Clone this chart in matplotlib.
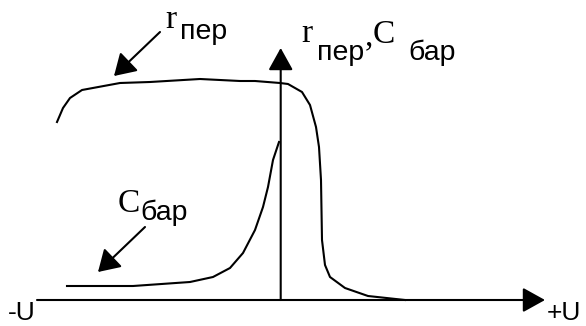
import matplotlib
matplotlib.use("Agg")
import matplotlib.pyplot as plt

# Transition resistance r_пер versus bias voltage U (arbitrary units)
u_r = [-2.237, -2.177, -2.107, -1.987, -1.607, -1.307, -0.807, -0.407, -0.257,
       -0.007, 0.073, 0.213, 0.293, 0.353, 0.383, 0.403, 0.413, 0.443, 0.493,
       0.643, 0.873, 1.243]
r_per = [1.78, 1.92, 2.02, 2.10, 2.17, 2.18, 2.21, 2.19, 2.19,
         2.17, 2.16, 2.08, 1.95, 1.73, 1.53, 1.20, 0.60, 0.35, 0.23,
         0.12, 0.04, 0.00]

# Barrier capacitance C_бар versus bias voltage U (arbitrary units)
u_c = [-2.137, -1.477, -0.907, -0.677, -0.507, -0.377, -0.257, -0.177,
       -0.127, -0.077, -0.017]
c_bar = [0.14, 0.14, 0.18, 0.23, 0.32, 0.47, 0.70, 0.93, 1.13, 1.40, 1.58]

SERIF = "Liberation Serif"
SANS = "Liberation Sans"
SUB = 20.5

fig = plt.figure(figsize=(5.86, 3.26), dpi=100)
ax = fig.add_axes([0, 0, 1, 1])
ax.set_xlim(-2.807, 3.053)
ax.set_ylim(-0.26, 3.0)
ax.axis("off")

lw = 1.5

# coordinate axes with filled arrowheads
axis_arrow = dict(arrowstyle="-|>,head_length=13.7,head_width=7.6",
                  mutation_scale=1, lw=lw, color="black",
                  shrinkA=0, shrinkB=0)
ax.annotate("", xy=(2.643, 0), xytext=(-2.437, 0), arrowprops=axis_arrow)
ax.annotate("", xy=(0, 2.52), xytext=(0, 0), arrowprops=axis_arrow)

# characteristics
ax.plot(u_r, r_per, color="black", lw=lw, solid_joinstyle="round")
ax.plot(u_c, c_bar, color="black", lw=lw, solid_joinstyle="round")

# pointer arrows to curves
ptr = dict(arrowstyle="-|>,head_length=13,head_width=8",
           mutation_scale=1, lw=lw, color="black", shrinkA=0, shrinkB=0)
ax.annotate("", xy=(-1.667, 2.24), xytext=(-1.207, 2.68), arrowprops=ptr)
ax.annotate("", xy=(-1.827, 0.28), xytext=(-1.357, 0.73), arrowprops=ptr)

def txt(x, y, s, fam, size):
    ax.text(x, y, s, family=fam, fontsize=size, ha="left", va="baseline",
            color="black")

# curve labels
txt(-1.157, 2.72, "r", SERIF, 24)
txt(-1.007, 2.61, "пер", SANS, SUB)

txt(-1.627, 0.88, "C", SERIF, 24)
txt(-1.407, 0.80, "бар", SANS, SUB)

# vertical axis label
txt(0.203, 2.58, "r", SERIF, 24)
txt(0.363, 2.40, "пер", SANS, SUB)
txt(0.835, 2.55, ",", SERIF, 24)
txt(0.915, 2.57, "C", SERIF, 24)
txt(1.273, 2.40, "бар", SANS, SUB)

# horizontal axis labels
txt(-2.727, -0.205, "-U", SANS, 19)
txt(2.658, -0.205, "+U", SANS, 19)

fig.savefig("out.png", dpi=100)
